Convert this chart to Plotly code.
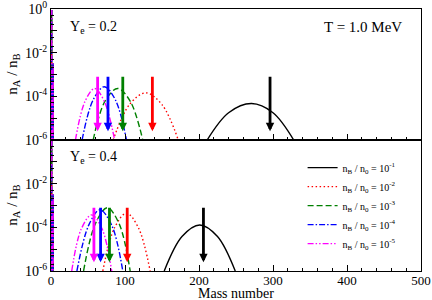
import plotly.graph_objects as go
from plotly.subplots import make_subplots

FONT = "Liberation Serif"

series_names = ["n<sub>B</sub> / n<sub>0</sub> = 10<sup>-1</sup>",
                "n<sub>B</sub> / n<sub>0</sub> = 10<sup>-2</sup>",
                "n<sub>B</sub> / n<sub>0</sub> = 10<sup>-3</sup>",
                "n<sub>B</sub> / n<sub>0</sub> = 10<sup>-4</sup>",
                "n<sub>B</sub> / n<sub>0</sub> = 10<sup>-5</sup>"]
colors = ["black", "red", "green", "blue", "magenta"]
dashes = ["solid", "1.5px,2.5px", "6px,3px", "6px,2px,1.5px,2px", "6px,2px,1.5px,2px,1.5px,2px"]

# Ye = 0.2 (top panel): mass number A and log10(n_A/n_B)
top_A = [
    [211, 240, 271, 300, 328],
    [84, 106, 128, 150, 172],
    [57, 73, 90, 107, 124],
    [42, 57, 72, 87, 102],
    [33, 46, 59, 72, 86],
]
top_logn = [
    [-6.0, -4.75, -4.33, -4.75, -6.0],
    [-6.0, -4.38, -3.84, -4.38, -6.0],
    [-6.0, -4.22, -3.64, -4.22, -6.0],
    [-6.0, -4.16, -3.56, -4.16, -6.0],
    [-6.0, -4.23, -3.64, -4.23, -6.0],
]
# Ye = 0.4 (bottom panel)
bot_A = [
    [153, 177, 201, 225, 249],
    [70, 86, 102, 118, 134],
    [44, 60, 76, 92, 107],
    [35, 51, 66, 82, 97],
    [28, 41, 55, 69, 82],
]
bot_logn = [
    [-6.0, -4.42, -3.89, -4.42, -6.0],
    [-6.0, -4.01, -3.35, -4.01, -6.0],
    [-6.0, -3.83, -3.10, -3.83, -6.0],
    [-6.0, -3.90, -3.20, -3.90, -6.0],
    [-6.0, -4.07, -3.43, -4.07, -6.0],
]
# light nuclei (A = 1..4), spread over the whole range
light_A = [1, 1, 2, 2, 3, 3, 4, 4]
light_logn = [-0.05, -6.0, -1.5, -6.0, -2.5, -6.0, -3.5, -6.0]

# arrows: average mass numbers
top_arrow_A = [296, 137, 97, 77, 63]
bot_arrow_A = [206, 103, 79, 67, 58]
arrow_top_log = -3.03
arrow_tip_log = -5.6

fig = make_subplots(rows=2, cols=1, shared_xaxes=True, vertical_spacing=0)

for row, (AA, LL) in enumerate([(top_A, top_logn), (bot_A, bot_logn)], start=1):
    for i in range(5):
        fig.add_trace(go.Scatter(
            x=light_A, y=[10 ** v for v in light_logn], mode="lines",
            line=dict(color=colors[i], width=1.2, dash=dashes[i]),
            showlegend=False, hoverinfo="skip"), row=row, col=1)
    for i in range(5):
        fig.add_trace(go.Scatter(
            x=AA[i], y=[10 ** v for v in LL[i]], mode="lines",
            line=dict(color=colors[i], width=1.4, dash=dashes[i], shape="spline", smoothing=1.0),
            name=series_names[i], showlegend=(row == 2)), row=row, col=1)

for row, arrs in [(1, top_arrow_A), (2, bot_arrow_A)]:
    xr = "x" if row == 1 else "x2"
    yr = "y" if row == 1 else "y2"
    for i in range(5):
        fig.add_annotation(x=arrs[i], y=arrow_tip_log, ax=arrs[i], ay=arrow_top_log,
                           xref=xr, yref=yr, axref=xr, ayref=yr,
                           showarrow=True, arrowhead=2, arrowsize=0.6, arrowwidth=2.8,
                           arrowcolor=colors[i], text="")

fig.add_annotation(x=0.045, y=0.93, xref="paper", yref="paper", text="Y<sub>e</sub> = 0.2",
                   showarrow=False, xanchor="left", yanchor="middle", font=dict(size=14, family=FONT))
fig.add_annotation(x=0.955, y=0.93, xref="paper", yref="paper", text="T = 1.0 MeV",
                   showarrow=False, xanchor="right", yanchor="middle", font=dict(size=15, family=FONT))
fig.add_annotation(x=0.045, y=0.435, xref="paper", yref="paper", text="Y<sub>e</sub> = 0.4",
                   showarrow=False, xanchor="left", yanchor="middle", font=dict(size=14, family=FONT))

# axis titles
for yc in [0.75, 0.25]:
    fig.add_annotation(x=-0.105, y=yc, xref="paper", yref="paper", text="n<sub>A</sub> / n<sub>B</sub>",
                       showarrow=False, textangle=-90, xanchor="center", yanchor="middle",
                       font=dict(size=15, family=FONT))
fig.add_annotation(x=0.5, y=-0.085, xref="paper", yref="paper", text="Mass number",
                   showarrow=False, xanchor="center", yanchor="middle", font=dict(size=14, family=FONT))

ytickvals = [1e-6, 1e-5, 1e-4, 1e-3, 1e-2, 1e-1, 1]
yticktext_top = ["10<sup>-6</sup>", "", "10<sup>-4</sup>", "", "10<sup>-2</sup>", "", "10<sup>0</sup>"]
yticktext_bot = ["10<sup>-6</sup>", "", "10<sup>-4</sup>", "", "10<sup>-2</sup>", "", ""]

for row, tt in [(1, yticktext_top), (2, yticktext_bot)]:
    fig.update_yaxes(type="log", range=[-6, 0], tickmode="array", tickvals=ytickvals, ticktext=tt,
                     ticks="inside", ticklen=6, tickcolor="black", showgrid=False, zeroline=False,
                     showline=True, linecolor="black", linewidth=1, mirror=True, automargin=False,
                     ticklabeloverflow="allow",
                     tickfont=dict(size=14, family=FONT),
                     minor=dict(ticks="inside", ticklen=3, tickcolor="black", showgrid=False),
                     row=row, col=1)

for row in [1, 2]:
    fig.update_xaxes(range=[0, 500], tickmode="linear", tick0=0, dtick=100,
                     ticks="inside", ticklen=6, tickcolor="black", showgrid=False, zeroline=False,
                     showline=True, linecolor="black", linewidth=1, mirror=True, automargin=False,
                     ticklabeloverflow="allow", ticklabelstandoff=-3,
                     tickfont=dict(size=13, family=FONT),
                     minor=dict(ticks="inside", ticklen=3, dtick=20, tickcolor="black", showgrid=False),
                     row=row, col=1)
fig.update_xaxes(showticklabels=False, row=1, col=1)

fig.update_layout(
    width=432, height=300,
    margin=dict(l=51, r=11, t=9, b=29),
    plot_bgcolor="white", paper_bgcolor="white",
    font=dict(family=FONT, color="black"),
    legend=dict(x=0.68, y=0.45, xanchor="left", yanchor="top", bgcolor="rgba(0,0,0,0)",
                font=dict(size=10, family=FONT), tracegroupgap=0),
)

fig.write_html("out.html", config={"displayModeBar": False},
               post_script="document.body.style.margin='0';")
